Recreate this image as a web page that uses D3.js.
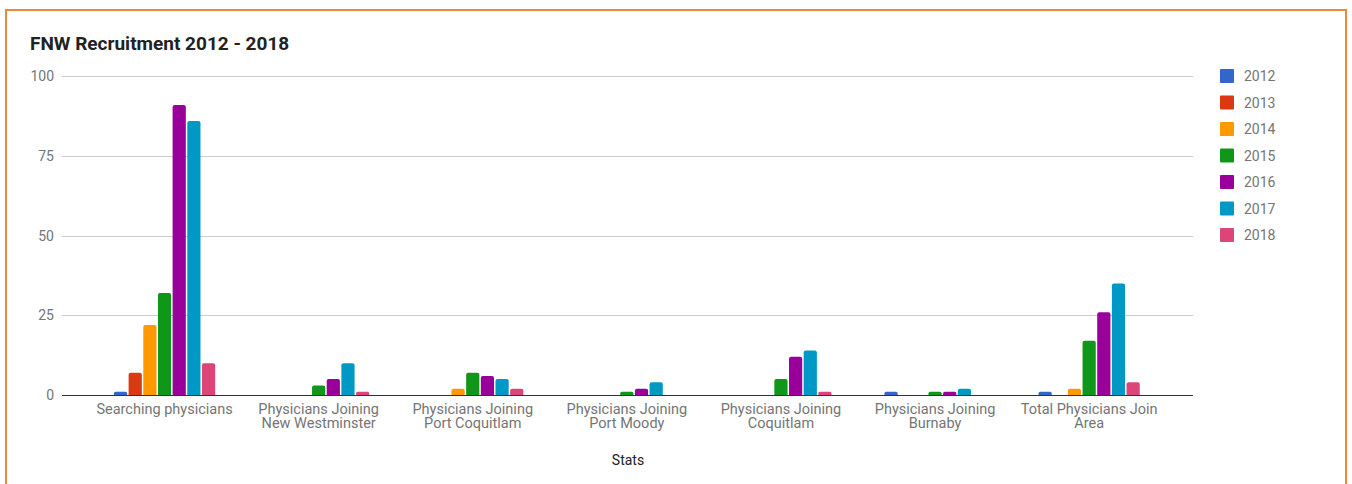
<!DOCTYPE html>
<html>
<head>
<meta charset="utf-8">
<script src="https://cdn.jsdelivr.net/npm/d3@7"></script>
<style>
  html, body { margin: 0; padding: 0; background: #fff; }
  svg { display: block; font-family: Roboto, "Noto Sans", Arial, sans-serif; }
</style>
</head>
<body>
<svg id="chart" width="1352" height="484"></svg>
<script>
// Recruitment counts per statistic, one array per year
const categories = [
  ["Searching physicians"],
  ["Physicians Joining", "New Westminster"],
  ["Physicians Joining", "Port Coquitlam"],
  ["Physicians Joining", "Port Moody"],
  ["Physicians Joining", "Coquitlam"],
  ["Physicians Joining", "Burnaby"],
  ["Total Physicians Join", "Area"]
];
const years = ["2012", "2013", "2014", "2015", "2016", "2017", "2018"];
const v2012 = [1, 0, 0, 0, 0, 1, 1];
const v2013 = [7, 0, 0, 0, 0, 0, 0];
const v2014 = [22, 0, 2, 0, 0, 0, 2];
const v2015 = [32, 3, 7, 1, 5, 1, 17];
const v2016 = [91, 5, 6, 2, 12, 1, 26];
const v2017 = [86, 10, 5, 4, 14, 2, 35];
const v2018 = [10, 1, 2, 0, 1, 0, 4];
const yTicks = [0, 25, 50, 75, 100];
const colors = ["#3366cc", "#dc3912", "#ff9900", "#109618", "#990099", "#0099c6", "#dd4477"];

const series = [v2012, v2013, v2014, v2015, v2016, v2017, v2018];
const svg = d3.select("#chart");

// Frame
svg.append("path")
  .attr("d", "M6,490 V10 H1346 V490")
  .attr("fill", "none")
  .attr("stroke", "#ef8640")
  .attr("stroke-width", 2);

// Title
svg.append("text")
  .attr("x", 30).attr("y", 49.5)
  .attr("font-size", 19).attr("font-weight", "bold")
  .attr("fill", "#222")
  .text("FNW Recruitment 2012 - 2018");

const gridLeft = 62, gridRight = 1193;
const y = d3.scaleLinear().domain([0, 100]).range([395, 76.3]);
const x0 = d3.scaleBand().domain(d3.range(categories.length)).range([87.5, 1166.2]);
const x1 = d3.scaleBand().domain(years).range([-50.6, 50.6]).paddingInner(0.1);

// Gridlines and y labels
const grid = svg.append("g");
yTicks.forEach(t => {
  if (t !== 0) {
    grid.append("line")
      .attr("x1", gridLeft).attr("x2", gridRight)
      .attr("y1", Math.round(y(t)) + 0.5).attr("y2", Math.round(y(t)) + 0.5)
      .attr("stroke", "#cccccc").attr("stroke-width", 1);
  }
  grid.append("text")
    .attr("x", 54).attr("y", y(t) + 5)
    .attr("text-anchor", "end")
    .attr("font-size", 14).attr("fill", "#757575")
    .text(t);
});

// Rounded-top bar path
function barPath(x, yTop, w, yBase) {
  const h = yBase - yTop;
  const r = Math.min(2, h / 2, w / 2);
  return `M${x},${yBase} V${yTop + r} Q${x},${yTop} ${x + r},${yTop} H${x + w - r} Q${x + w},${yTop} ${x + w},${yTop + r} V${yBase} Z`;
}

const bars = svg.append("g");
categories.forEach((c, i) => {
  const cx = x0(i) + x0.bandwidth() / 2;
  years.forEach((yr, k) => {
    const val = series[k][i];
    if (!val) return;
    bars.append("path")
      .attr("d", barPath(cx + x1(yr), y(val), x1.bandwidth(), y(0)))
      .attr("fill", colors[k]);
  });
  // Category label
  const t = svg.append("text")
    .attr("text-anchor", "middle")
    .attr("font-size", 14.5).attr("fill", "#757575");
  c.forEach((line, j) => {
    t.append("tspan").attr("x", cx).attr("y", 414 + j * 14).text(line);
  });
});

// Baseline
svg.append("line")
  .attr("x1", gridLeft).attr("x2", gridRight)
  .attr("y1", y(0) + 0.5).attr("y2", y(0) + 0.5)
  .attr("stroke", "#333").attr("stroke-width", 1);

// Axis title
svg.append("text")
  .attr("x", 628).attr("y", 465)
  .attr("text-anchor", "middle")
  .attr("font-size", 14).attr("fill", "#222")
  .text("Stats");

// Legend
const legend = svg.append("g");
years.forEach((yr, k) => {
  const cy = 76 + k * 26.5;
  legend.append("rect")
    .attr("x", 1220).attr("y", cy - 7)
    .attr("width", 14).attr("height", 14)
    .attr("rx", 1)
    .attr("fill", colors[k]);
  legend.append("text")
    .attr("x", 1244).attr("y", cy + 5)
    .attr("font-size", 14).attr("fill", "#757575")
    .text(yr);
});
</script>
</body>
</html>
